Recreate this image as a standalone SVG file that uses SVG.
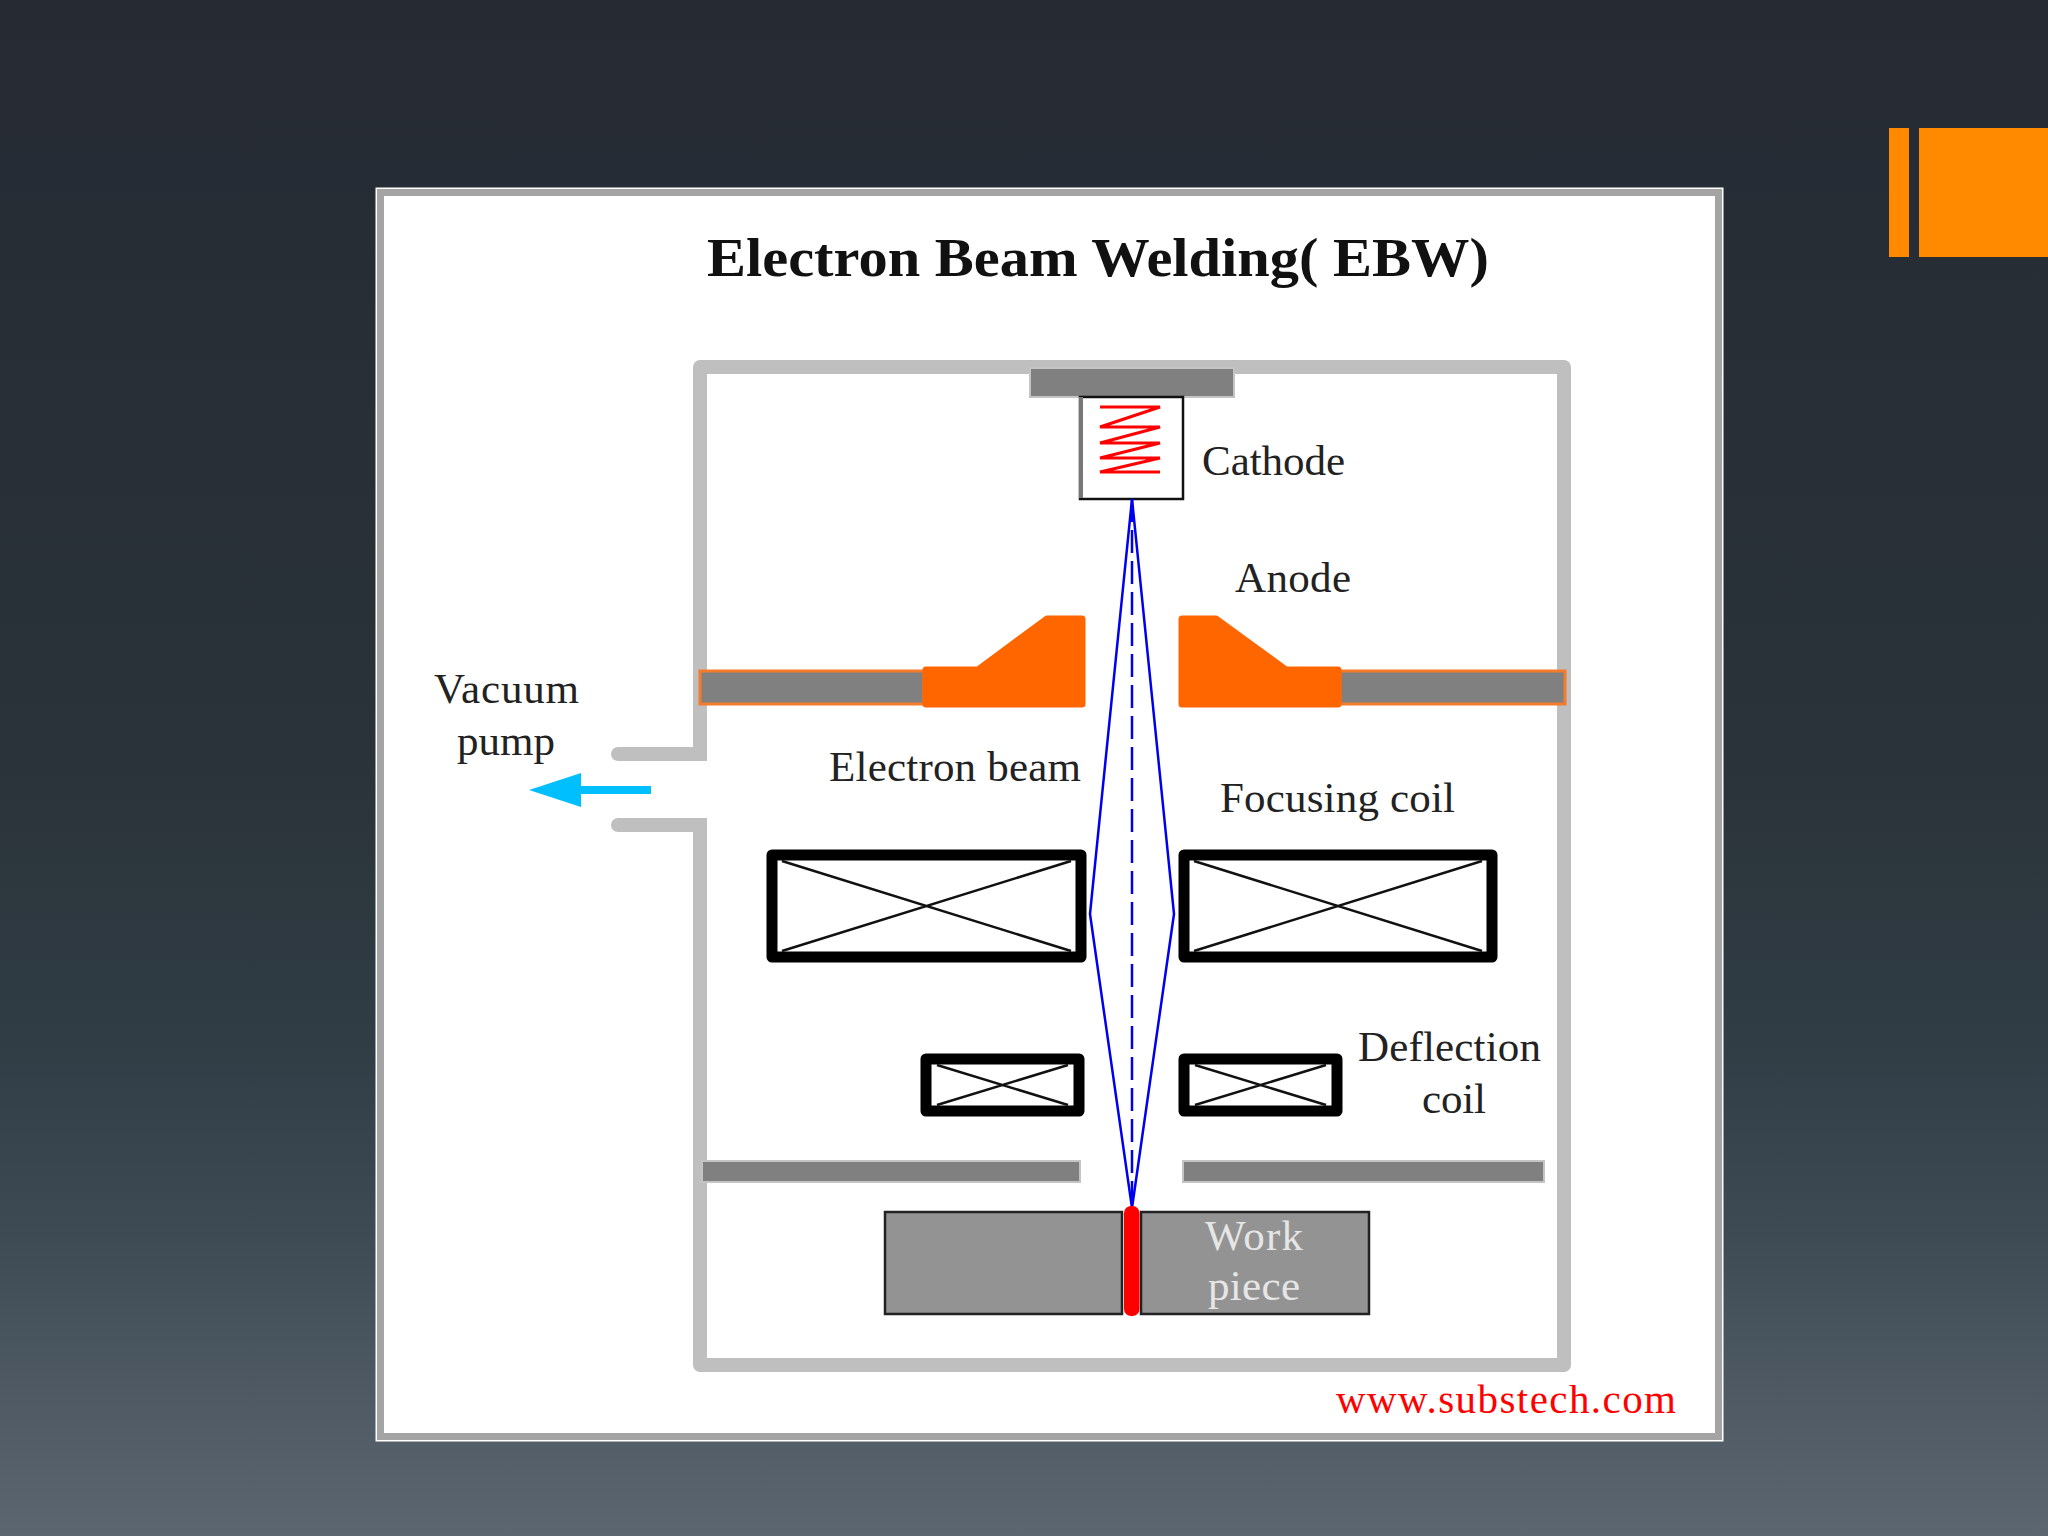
<svg xmlns="http://www.w3.org/2000/svg" width="2048" height="1536" viewBox="0 0 2048 1536">
<defs>
<linearGradient id="bg" x1="0" y1="0" x2="0" y2="1">
<stop offset="0" stop-color="#252a33"/><stop offset="0.5" stop-color="#2a3339"/><stop offset="0.68" stop-color="#303d45"/><stop offset="0.8" stop-color="#3d4a54"/><stop offset="1" stop-color="#5c6670"/>
</linearGradient>
</defs>
<style>
.t{font-family:"Liberation Serif","Times New Roman",serif;font-size:43px;fill:#222}
.wall{fill:none;stroke:#bfbfbf;stroke-width:14;stroke-linejoin:round;stroke-linecap:round}
.coil{fill:#fff;stroke:#000;stroke-width:11;stroke-linejoin:round}
.x{stroke:#111;stroke-width:2.500;fill:none}
.gray{fill:#808080;stroke:#c4c4c4;stroke-width:2}
.anode{fill:#ff6600;stroke:#ff6600;stroke-width:7;stroke-linejoin:round}
.abar{fill:#808080;stroke:#f47a2c;stroke-width:3}
.wp{fill:#939393;stroke:#222;stroke-width:2.500}
.beam{fill:none;stroke:#0000f0;stroke-width:2.500}
</style>
<rect id="background" width="2048" height="1536" fill="url(#bg)"/>
<g id="accent" fill="#ff8a00"><rect x="1889" y="128" width="20" height="129"/><rect x="1919" y="128" width="129" height="129"/></g>
<g id="panel"><rect x="375.500" y="187.500" width="1348" height="1254" fill="#fff"/><rect x="380.500" y="192.500" width="1338" height="1244" fill="#fff" stroke="#a4a4a4" stroke-width="7"/></g>
<text id="title" x="707" y="276" textLength="782" lengthAdjust="spacingAndGlyphs" style="font-family:'Liberation Serif','Times New Roman',serif;font-size:54px;font-weight:bold;fill:#111">Electron Beam Welding( EBW)</text>
<g id="chamber"><path class="wall" d="M700 754V367H1564V1365H700V825"/><path class="wall" d="M618 754H700M618 825H700"/><rect x="693" y="747" width="14" height="14" fill="#bfbfbf"/><rect x="693" y="818" width="14" height="14" fill="#bfbfbf"/></g>
<g id="cathode-mount"><rect class="gray" x="1030" y="368" width="204" height="29"/></g>
<g id="cathode"><rect x="1080" y="397" width="103" height="102" fill="#fff" stroke="#111" stroke-width="2.500"/><rect x="1079" y="397" width="4" height="101" fill="#777"/><path d="M1100 407H1160L1100 427H1160L1100 443H1160L1100 458H1160L1100 472H1160" fill="none" stroke="#f00" stroke-width="3"/><text class="t" x="1202" y="475" textLength="143">Cathode</text></g>
<g id="anode-left"><rect class="abar" x="700" y="671" width="224" height="33"/><path class="anode" d="M926 670H978L1047 619H1082V704H926Z"/></g>
<g id="anode-right"><rect class="abar" x="1340" y="671" width="225" height="33"/><path class="anode" d="M1182 619H1216L1286 670H1338V704H1182Z"/></g>
<text id="anode-label" class="t" x="1235" y="592" textLength="116">Anode</text>
<g id="vacuum-pump"><text class="t" x="434" y="703" textLength="145">Vacuum</text><text class="t" x="457" y="755" textLength="98">pump</text></g>
<g id="connectors">
<path d="M651 790H578" fill="none" stroke="#00bfff" stroke-width="8"/><path d="M529 790L581 773V807Z" fill="#00bfff"/>
<path class="beam" d="M1132 499L1090 914L1132 1208L1174 914Z"/>
<path class="beam" d="M1132 499V1208" stroke-dasharray="23 8"/>
</g>
<text id="electron-beam-label" class="t" x="829" y="781" textLength="252">Electron beam</text>
<text id="focusing-coil-label" class="t" x="1220" y="812" textLength="235">Focusing coil</text>
<g id="focusing-coil-left"><rect class="coil" x="772" y="855" width="309" height="102"/><path class="x" d="M782 861L1071 951M782 951L1071 861"/></g>
<g id="focusing-coil-right"><rect class="coil" x="1184" y="855" width="308" height="102"/><path class="x" d="M1194 861L1482 951M1194 951L1482 861"/></g>
<g id="deflection-coil-left"><rect class="coil" x="926" y="1059" width="153" height="52"/><path class="x" d="M937 1065L1068 1105M937 1105L1068 1065"/></g>
<g id="deflection-coil-right"><rect class="coil" x="1184" y="1059" width="153" height="52"/><path class="x" d="M1195 1065L1326 1105M1195 1105L1326 1065"/></g>
<g id="deflection-label"><text class="t" x="1358" y="1061" textLength="183">Deflection</text><text class="t" x="1422" y="1113" textLength="64">coil</text></g>
<g id="shields"><rect class="gray" x="702" y="1161" width="378" height="21"/><rect class="gray" x="1183" y="1161" width="361" height="21"/></g>
<g id="workpiece"><rect class="wp" x="885" y="1212" width="237" height="102"/><rect class="wp" x="1141" y="1212" width="228" height="102"/><rect x="1124" y="1206" width="15.500" height="110" rx="7" fill="#f00"/><text class="t" x="1205" y="1250" style="fill:#e6e6e6" textLength="98">Work</text><text class="t" x="1208" y="1300" style="fill:#e6e6e6" textLength="92">piece</text></g>
<text id="credit" class="t" x="1336" y="1413" style="fill:#f00;font-size:41px" textLength="340" lengthAdjust="spacing">www.substech.com</text>
</svg>
